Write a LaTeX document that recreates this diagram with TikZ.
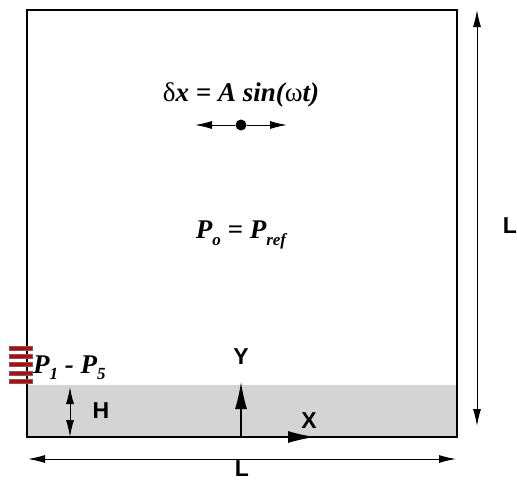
\documentclass[tikz,border=0pt]{standalone}
\usepackage{fontspec}
\setmainfont{Liberation Serif}
\setsansfont{Liberation Sans}
\usetikzlibrary{arrows.meta, positioning}
\tikzstyle{arrow} = [line width=1.4pt,-{Latex[length=27pt,width=12pt]}]
\tikzstyle{smallarrow} = [line width=1pt,-{Latex[length=17pt,width=8pt]}]
\tikzstyle{dimline} = [line width=1pt,{Latex[length=17pt,width=8pt]}-{Latex[length=17pt,width=8pt]}]
\tikzstyle{axislabel} = [font=\sffamily\bfseries\fontsize{23}{23}\selectfont, inner sep=0pt]
\tikzstyle{formula} = [font=\bfseries\itshape\fontsize{27}{27}\selectfont, inner sep=0pt]
\tikzstyle{probe} = [fill=red!80!black, draw=black!60, line width=0.4pt]
\newcommand{\sbs}[1]{\raisebox{-0.5ex}{\fontsize{17}{17}\selectfont #1}}

\begin{document}
\begin{tikzpicture}[x=1pt,y=-1pt]
\useasboundingbox (0,0) rectangle (517,482);

% Fluid layer and domain
\fill[black!17] (27,385) rectangle (457,437);
\draw[line width=1.6pt] (27,10) rectangle (457,437);

% Probes
\foreach \yy in {348,356,364,373,381}
  \draw[probe] (9,\yy-2) rectangle (32,\yy+2);
\node (probes) [formula, anchor=west] at (33,368) {P\sbs{1} - P\sbs{5}};

% Oscillating point
\node (osc) [circle, fill=black, inner sep=0pt, minimum size=11pt] at (241,125) {};
\coordinate (oscL) at (195,125);
\coordinate (oscR) at (287,125);
\draw [smallarrow] (osc) -- (oscL);
\draw [smallarrow] (osc) -- (oscR);
\node (motion) [formula] at (241,95) {{\mdseries\upshape δ}x = A sin({\mdseries\upshape ω}t)};

% Reference pressure
\node (pref) [formula] at (241,235) {P\sbs{o} = P\sbs{ref}};

% Axes
\coordinate (origin) at (241,437);
\coordinate (ytip) at (241,382);
\coordinate (xtip) at (315,437);
\draw [arrow] (origin) -- (ytip);
\draw [arrow] (origin) -- (xtip);
\node (ylab) [axislabel] at (241,357) {Y};
\node (xlab) [axislabel] at (309,421) {X};

% Layer height
\coordinate (htop) at (70,387);
\coordinate (hbot) at (70,437);
\draw [dimline] (htop) -- (hbot);
\node (hlab) [axislabel] at (101,411) {H};

% Domain size
\coordinate (bl) at (28,459);
\coordinate (br) at (456,459);
\draw [dimline] (bl) -- (br);
\node (lbot) [axislabel] at (242,469) {L};
\coordinate (rt) at (477,10);
\coordinate (rb) at (477,426);
\draw [dimline] (rt) -- (rb);
\node (lright) [axislabel] at (510,226) {L};

\end{tikzpicture}
\end{document}
